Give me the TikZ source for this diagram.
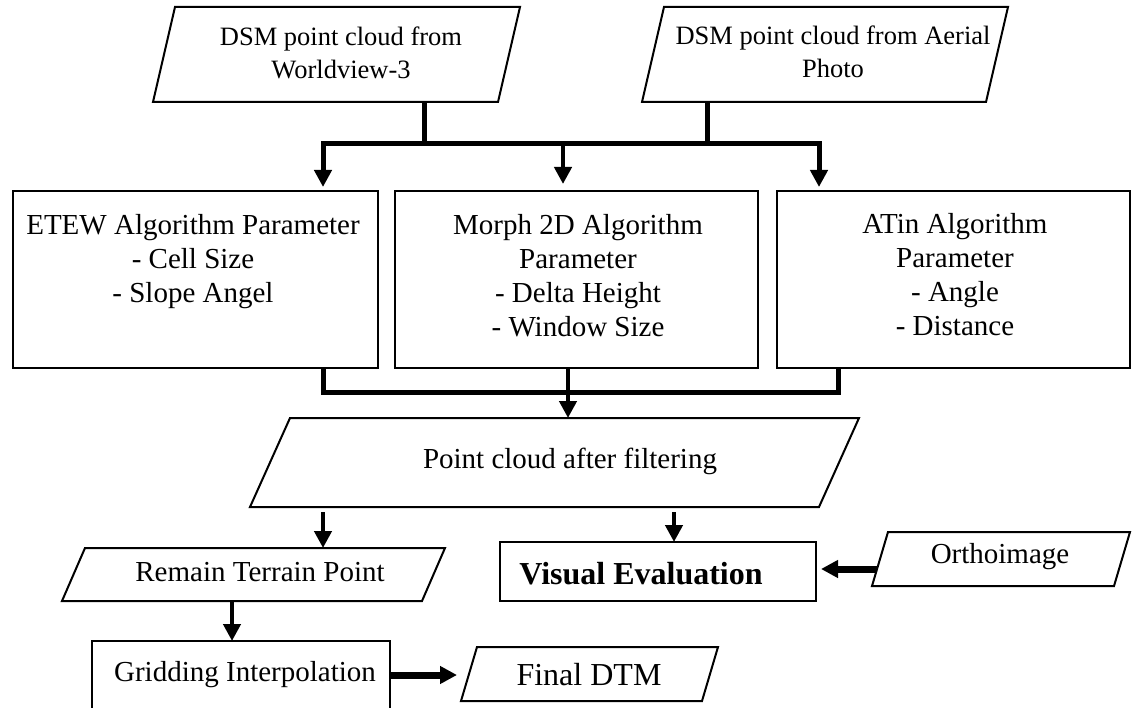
\documentclass[tikz,border=0pt]{standalone}
\usepackage{fontspec}
\setmainfont{Liberation Serif}
\usetikzlibrary{arrows.meta,calc}
\newcommand\paral[2]{\draw[outline] (#1.south west) -- ($(#1.north west)+(#2,0)$) -- (#1.north east) -- ($(#1.south east)+(-#2,0)$) -- cycle;}
\begin{document}
\begin{tikzpicture}[x=1pt,y=-1pt,
  box/.style={draw, line width=2pt, inner sep=0pt, outer sep=0pt},
  pnode/.style={inner sep=0pt, outer sep=0pt},
  outline/.style={draw, line width=2pt, line join=miter},
  txt/.style={align=center, inner sep=0pt, font=\fontsize{29}{34}\selectfont},
  txts/.style={align=center, inner sep=0pt, font=\fontsize{26.5}{33}\selectfont},
  txtb/.style={align=center, inner sep=0pt, font=\fontsize{32}{38}\selectfont},
  tip/.tip={Triangle[width=17pt,length=17pt]},
  bus/.style={line width=5pt},
  busarr/.style={line width=5pt, line join=miter, tip-tip},
  arr/.style={line width=4.5pt, -tip},
  barr/.style={line width=7pt, -tip}]
\useasboundingbox (0,0) rectangle (1132,708);

% top parallelograms
\node[pnode, minimum width=367pt, minimum height=95pt] (p1) at (336.5,54.5) {};
\paral{p1}{22}
\node[txts] (t1) at (341,53) {DSM point cloud from\\Worldview-3};
\node[pnode, minimum width=366pt, minimum height=95pt] (p2) at (825,54.5) {};
\paral{p2}{22}
\node[txts] (t2) at (833,52) {DSM point cloud from Aerial\\Photo};

% algorithm boxes
\node[box, minimum width=365pt, minimum height=177pt] (b1) at (195.5,279.5) {};
\node[txt] (t3) at (193,262) {ETEW Algorithm Parameter\\- Cell Size\\- Slope Angel};
\node[box, minimum width=363pt, minimum height=177pt] (b2) at (576.5,279.5) {};
\node[txt] (t4) at (578,276) {Morph 2D Algorithm\\Parameter\\- Delta Height\\- Window Size};
\node[box, minimum width=353pt, minimum height=177pt] (b3) at (953.5,279.5) {};
\node[txt] (t5) at (955,275) {ATin Algorithm\\Parameter\\- Angle\\- Distance};

% point cloud after filtering
\node[pnode, minimum width=609pt, minimum height=89pt] (p3) at (554.5,462.5) {};
\paral{p3}{40}
\node[txt] (t6) at (570,461) {Point cloud after filtering};

% remain terrain point
\node[pnode, minimum width=383pt, minimum height=53pt] (p4) at (253.5,574.5) {};
\paral{p4}{23}
\node[txt] (t7) at (260,572) {Remain Terrain Point};

% visual evaluation
\node[box, minimum width=316pt, minimum height=59pt] (b4) at (658,571.5) {};
\node[txtb] (t8) at (641,574) {\bfseries Visual Evaluation};

% orthoimage
\node[pnode, minimum width=258pt, minimum height=54pt] (p5) at (1001,559) {};
\paral{p5}{16}
\node[txt] (t9) at (1000,557) {Orthoimage};

% gridding interpolation
\node[box, minimum width=298pt, minimum height=71pt] (b5) at (241,676.5) {};
\node[txt] (t10) at (245,675) {Gridding Interpolation};

% final DTM
\node[pnode, minimum width=257pt, minimum height=54pt] (p6) at (589.5,674) {};
\paral{p6}{16}
\node[txtb] (t11) at (589,675) {Final DTM};

% connectors: top
\coordinate (tl) at (323,144);
\coordinate (tr) at (819,144);
\coordinate (s1) at (424,144);
\coordinate (s2) at (707,144);
\coordinate (tm) at (563,144);
\draw[bus] (s1 |- p1.south) -- (s1);
\draw[bus] (s2 |- p2.south) -- (s2);
\draw[busarr, shorten <=4pt, shorten >=4pt] (tl |- b1.north) -- (tl) -- (tr) -- (tr |- b3.north);
\draw[arr, shorten >=7pt] (tm) -- (tm |- b2.north);

% connectors: bottom bus
\coordinate (bl) at (323,392);
\coordinate (br) at (838,392);
\coordinate (bm) at (568,392);
\draw[bus, line join=miter] (bl |- b1.south) -- (bl) -- (br) -- (br |- b3.south);
\draw[arr] (bm |- b2.south) -- (bm |- p3.north);

% lower connectors
\coordinate (k1) at (323,512);
\coordinate (k2) at (674,512);
\coordinate (k3) at (877,569);
\coordinate (k4) at (232,601);
\coordinate (k5) at (390,675);
\draw[arr] (k1) -- (k1 |- p4.north);
\draw[arr] (k2) -- (k2 |- b4.north);
\draw[barr, shorten >=5pt] (k3) -- (k3 -| b4.east);
\draw[arr] (k4 |- p4.south) -- (k4 |- b5.north);
\draw[barr, shorten >=4pt] (k5 -| b5.east) -- (k5 -| p6.west);
\end{tikzpicture}
\end{document}
